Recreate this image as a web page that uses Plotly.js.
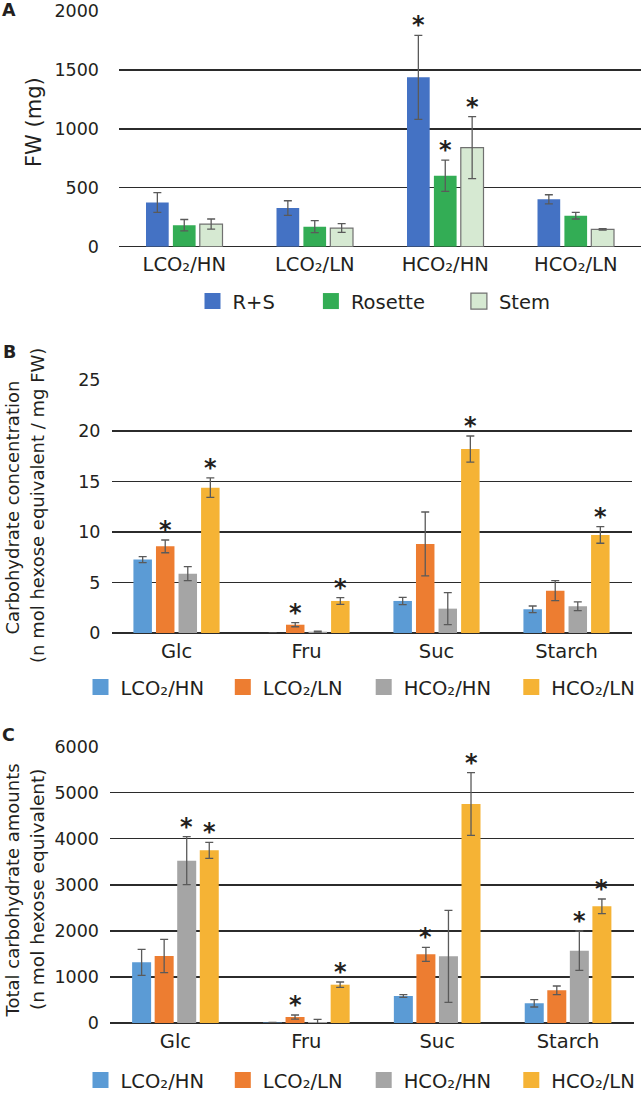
<!DOCTYPE html>
<html><head><meta charset="utf-8">
<script src="https://cdn.plot.ly/plotly-3.0.1.min.js"></script>
<style>html,body{margin:0;padding:0;background:#fff}#chart{width:643px;height:1093px}</style>
</head><body><div id="chart"></div>
<script>
// ---------------- Panel A data ----------------
const catsA = ['LCO₂/HN', 'LCO₂/LN', 'HCO₂/HN', 'HCO₂/LN'];
const namesA = ['R+S', 'Rosette', 'Stem'];
const rsVals = [375, 328, 1437, 402];
const rsErr = [83, 62, 356, 39];
const rsSig = [0, 0, 1, 0];
const rosetteVals = [183, 170, 602, 263];
const rosetteErr = [48, 51, 133, 28];
const rosetteSig = [0, 0, 1, 0];
const stemVals = [192, 158, 840, 147];
const stemErr = [43, 37, 263, 6];
const stemSig = [0, 0, 1, 0];
const ticksA = [0, 500, 1000, 1500, 2000];

// ---------------- Panel B/C categories and series ----------------
const catsBC = ['Glc', 'Fru', 'Suc', 'Starch'];
const namesBC = ['LCO₂/HN', 'LCO₂/LN', 'HCO₂/HN', 'HCO₂/LN'];

// Panel B: concentration (n mol hexose equivalent / mg FW)
const concLCO2HN = [7.26, 0, 3.17, 2.34];
const concLCO2HNErr = [0.3, 0, 0.36, 0.33];
const concLCO2HNSig = [0, 0, 0, 0];
const concLCO2LN = [8.57, 0.82, 8.81, 4.19];
const concLCO2LNErr = [0.63, 0.2, 3.16, 0.99];
const concLCO2LNSig = [1, 1, 0, 0];
const concHCO2HN = [5.87, 0.13, 2.41, 2.64];
const concHCO2HNErr = [0.69, 0.05, 1.58, 0.43];
const concHCO2HNSig = [0, 0, 0, 0];
const concHCO2LN = [14.38, 3.17, 18.2, 9.7];
const concHCO2LNErr = [0.96, 0.33, 1.29, 0.82];
const concHCO2LNSig = [1, 1, 1, 1];
const ticksB = [0, 5, 10, 15, 20, 25];

// Panel C: total amounts (n mol hexose equivalent)
const totLCO2HN = [1317, 10, 586, 427];
const totLCO2HNErr = [283, 5, 29, 80];
const totLCO2HNSig = [0, 0, 0, 0];
const totLCO2LN = [1455, 130, 1491, 709];
const totLCO2LNErr = [362, 44, 152, 94];
const totLCO2LNSig = [0, 1, 1, 0];
const totHCO2HN = [3525, 22, 1448, 1571];
const totHCO2HNErr = [521, 58, 998, 427];
const totHCO2HNSig = [1, 0, 0, 1];
const totHCO2LN = [3749, 832, 4755, 2533];
const totHCO2LNErr = [174, 58, 681, 160];
const totHCO2LNSig = [1, 1, 1, 1];
const ticksC = [0, 1000, 2000, 3000, 4000, 5000, 6000];

// ---------------- helpers ----------------
const W = 643, H = 1093;
const FONT = 'DejaVu Sans, Arial, sans-serif';
const TXT = '#231f20';
const GRID = '#2b2b2b';
const LEG_FS = 19.5;
const LEG_HALF = (LEG_FS * 1.3 + 10) / 2;
const px = p => p / W;
const py = p => 1 - p / H;

const data = [];
const annotations = [];
const layout = {
  width: W, height: H,
  margin: {l: 0, r: 0, t: 0, b: 0, autoexpand: false},
  paper_bgcolor: '#fff', plot_bgcolor: '#fff',
  barmode: 'overlay',
  showlegend: true,
  font: {family: FONT, color: TXT, size: 16},
  annotations: annotations
};
let legendCount = 0;

function panel(o) {
  const xa = 'x' + o.id, ya = 'y' + o.id;
  const nCat = o.cats.length;
  const catPx = (o.x1 - o.x0) / nCat;
  const n = o.series.length;
  const wU = o.barPx / catPx, sU = o.slotPx / catPx;
  layout['xaxis' + o.id] = {
    domain: [px(o.x0), px(o.x1)], anchor: ya, type: 'category',
    range: [-0.5, nCat - 0.5], showgrid: false, zeroline: false, showline: false,
    ticks: '', tickfont: {family: FONT, size: 19.5, color: TXT},
    ticklabelstandoff: o.xStand, fixedrange: true
  };
  layout['yaxis' + o.id] = {
    domain: [py(o.y0), py(o.y1)], anchor: xa, range: [0, o.ymax],
    tickmode: 'array', tickvals: o.ticks, ticktext: o.ticks.map(String),
    showgrid: true, gridcolor: GRID, gridwidth: 1.4,
    zeroline: true, zerolinecolor: GRID, zerolinewidth: 1.4,
    showline: false, ticks: '', tickfont: {family: FONT, size: 17.5, color: TXT},
    ticklabelstandoff: o.yStand, fixedrange: true
  };
  o.series.forEach((s, i) => {
    const off = (i - (n - 1) / 2) * sU - wU / 2;
    data.push({
      type: 'bar', x: o.cats, y: s.vals, xaxis: xa, yaxis: ya,
      width: wU, offset: off,
      marker: {color: s.color, line: {color: s.line || s.color, width: s.line ? 1.2 : 0}},
      error_y: {type: 'data', array: s.errs, visible: true, color: '#5a5a5a', thickness: 1.3, width: 4},
      showlegend: false, hoverinfo: 'skip', name: s.name
    });
    s.sig.forEach((g, k) => {
      if (g) annotations.push({
        xref: xa, yref: ya, x: k + off + wU / 2, y: s.vals[k] + s.errs[k],
        text: '*', showarrow: false, xanchor: 'center', yanchor: 'middle', yshift: 10,
        font: {family: 'DejaVu Sans', size: 24, color: TXT, weight: 'bold'}
      });
    });
    legendCount++;
    const lid = legendCount === 1 ? 'legend' : 'legend' + legendCount;
    data.push({
      type: 'scatter', mode: 'markers', x: [null], y: [null], xaxis: xa, yaxis: ya,
      name: s.name, legend: lid, hoverinfo: 'skip',
      marker: {symbol: 'square', size: 18, color: s.color,
               line: {color: s.line || s.color, width: s.line ? 1.2 : 0}}
    });
    layout[lid] = {
      x: px(o.legX[i] - 20), y: py(o.legY + LEG_HALF), xanchor: 'left', yanchor: 'bottom',
      bgcolor: 'rgba(0,0,0,0)', borderwidth: 0, orientation: 'v',
      font: {family: FONT, size: LEG_FS, color: TXT}, itemclick: false, itemdoubleclick: false
    };
  });
}

const BLUE = '#5b9bd5', ORANGE = '#ed7d31', GRAY = '#a5a5a5', GOLD = '#f5b335';

panel({
  id: '', x0: 119, x1: 641, y0: 246.7, y1: 11, ymax: 2000, ticks: ticksA,
  cats: catsA, barPx: 22.7, slotPx: 26.9, xStand: 4, yStand: 19,
  legX: [212.5, 330.9, 478.9], legY: 303.2,
  series: [
    {name: namesA[0], vals: rsVals, errs: rsErr, sig: rsSig, color: '#4472c4'},
    {name: namesA[1], vals: rosetteVals, errs: rosetteErr, sig: rosetteSig, color: '#33ad55'},
    {name: namesA[2], vals: stemVals, errs: stemErr, sig: stemSig, color: '#d6e9d2', line: '#707070'}
  ]
});

panel({
  id: '2', x0: 111.5, x1: 631.5, y0: 633, y1: 380.3, ymax: 25, ticks: ticksB,
  cats: catsBC, barPx: 18.5, slotPx: 22.55, xStand: 4, yStand: 10,
  legX: [100.5, 242.8, 383.7, 531.3], legY: 689.2,
  series: [
    {name: namesBC[0], vals: concLCO2HN, errs: concLCO2HNErr, sig: concLCO2HNSig, color: BLUE},
    {name: namesBC[1], vals: concLCO2LN, errs: concLCO2LNErr, sig: concLCO2LNSig, color: ORANGE},
    {name: namesBC[2], vals: concHCO2HN, errs: concHCO2HNErr, sig: concHCO2HNSig, color: GRAY},
    {name: namesBC[3], vals: concHCO2LN, errs: concHCO2LNErr, sig: concHCO2LNSig, color: GOLD}
  ]
});

panel({
  id: '3', x0: 110, x1: 633.5, y0: 1023, y1: 746.7, ymax: 6000, ticks: ticksC,
  cats: catsBC, barPx: 19, slotPx: 22.55, xStand: 4, yStand: 10,
  legX: [100.5, 242.8, 383.7, 531.3], legY: 1082.2,
  series: [
    {name: namesBC[0], vals: totLCO2HN, errs: totLCO2HNErr, sig: totLCO2HNSig, color: BLUE},
    {name: namesBC[1], vals: totLCO2LN, errs: totLCO2LNErr, sig: totLCO2LNSig, color: ORANGE},
    {name: namesBC[2], vals: totHCO2HN, errs: totHCO2HNErr, sig: totHCO2HNSig, color: GRAY},
    {name: namesBC[3], vals: totHCO2LN, errs: totHCO2LNErr, sig: totHCO2LNSig, color: GOLD}
  ]
});

// panel letters and y-axis titles
function paperText(text, x, y, size, angle, bold) {
  annotations.push({
    xref: 'paper', yref: 'paper', x: px(x), y: py(y), text: text, showarrow: false,
    xanchor: 'center', yanchor: 'middle', textangle: angle || 0,
    font: {family: FONT, size: size, color: TXT, weight: bold ? 'bold' : 'normal'}
  });
}
paperText('A', 8.5, 10.3, 17.5, 0, true);
paperText('B', 9, 351.7, 17.5, 0, true);
paperText('C', 8.5, 735, 17.5, 0, true);
paperText('FW (mg)', 34, 122, 21, -90);
paperText('Carbohydrate concentration', 11.5, 508, 18, -90);
paperText('(n mol hexose equivalent / mg FW)', 37, 506, 18, -90);
paperText('Total carbohydrate amounts', 11.5, 891, 18, -90);
paperText('(n mol hexose equivalent)', 37, 889, 18.5, -90);

Plotly.newPlot('chart', data, layout, {staticPlot: true, displayModeBar: false});
</script></body></html>
